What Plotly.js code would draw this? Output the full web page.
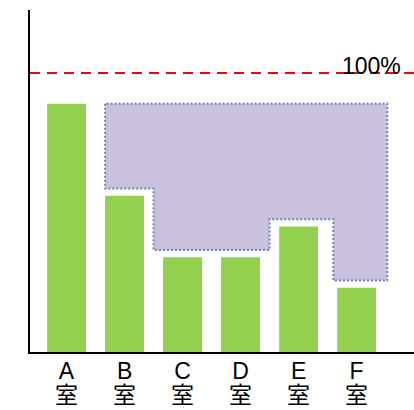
<!DOCTYPE html>
<html>
<head>
<meta charset="utf-8">
<script src="https://cdn.plot.ly/plotly-3.0.1.min.js"></script>
<style>html,body{margin:0;padding:0;background:#fff;}#chart{width:414px;height:410px;}</style>
</head>
<body>
<div id="chart"></div>
<script>
// ---- data ----
const categories = ['A', 'B', 'C', 'D', 'E', 'F'];
const roomSuffix = '室';
const values = [89, 56, 34, 34, 45, 23];
const targetValue = 100;
const targetLabel = '100%';

// ---- derived ----
const xIdx = categories.map((_, i) => i);
const barWidth = 0.67;
const pad = 2.6;

// gap region: from bar B to F, up to level of bar A
const gapTop = values[0];
const gx = [], gy = [];
gx.push(1 - barWidth / 2); gy.push(gapTop);
for (let i = 1; i < values.length; i++) {
  const xs = (i === 1) ? 1 - barWidth / 2 : (i === 5 ? 4.6 : i - 0.5);
  const xe = (i === 5) ? 5.53 : (i === 4 ? 4.6 : i + 0.5);
  gx.push(xs); gy.push(values[i] + pad);
  gx.push(xe); gy.push(values[i] + pad);
}
gx.push(5.53); gy.push(gapTop);
gx.push(1 - barWidth / 2); gy.push(gapTop);

const traces = [
  {
    type: 'bar', x: xIdx, y: values, width: barWidth,
    marker: {color: '#92d050', line: {width: 0}},
    hoverinfo: 'none', showlegend: false
  },
  {
    type: 'scatter', mode: 'lines', x: gx, y: gy, fill: 'toself',
    fillcolor: '#cac1dd',
    line: {color: '#6b82c8', width: 2, dash: '2px,2px'},
    hoverinfo: 'none', showlegend: false
  }
];

const latin = 'Liberation Sans, Arial, sans-serif';
const cjk = '"Noto Sans CJK JP", "Noto Sans CJK SC", sans-serif';

const suffixAnnotations = xIdx.map(i => ({
  xref: 'x', x: i, yref: 'paper', y: 0, yanchor: 'middle', xanchor: 'center', yshift: -41,
  text: roomSuffix, showarrow: false, borderpad: 0,
  font: {size: 23, color: '#000', family: cjk}
}));

const layout = {
  width: 414, height: 410,
  margin: {l: 30, r: 0, t: 10, b: 58},
  paper_bgcolor: '#ffffff', plot_bgcolor: '#ffffff',
  showlegend: false,
  font: {family: latin, color: '#000'},
  xaxis: {
    range: [-0.63, 5.99], tickvals: xIdx, ticktext: categories,
    showline: true, linecolor: '#000', linewidth: 2,
    showgrid: false, zeroline: false, ticks: '', ticklabelstandoff: -3,
    tickfont: {size: 23, color: '#000', family: latin},
    fixedrange: true
  },
  yaxis: {
    range: [0, 122.6],
    showline: true, linecolor: '#000', linewidth: 2,
    showgrid: false, zeroline: false, showticklabels: false, ticks: '',
    fixedrange: true
  },
  shapes: [{
    type: 'line', xref: 'paper', x0: 0, x1: 1, yref: 'y', y0: targetValue, y1: targetValue,
    line: {color: '#ff0000', width: 2, dash: '10px,7px'}
  }],
  annotations: [{
    xref: 'paper', x: 0.89, xanchor: 'center', yref: 'y', y: targetValue, yanchor: 'bottom', yshift: -8,
    text: targetLabel, showarrow: false,
    font: {size: 23, color: '#000', family: latin}
  }].concat(suffixAnnotations)
};

Plotly.newPlot('chart', traces, layout, {displayModeBar: false, staticPlot: true});
</script>
</body>
</html>
